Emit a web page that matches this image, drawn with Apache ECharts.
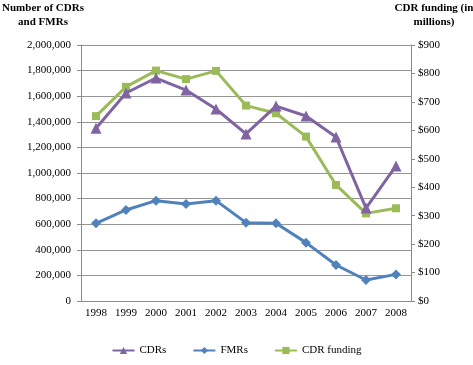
<!DOCTYPE html>
<html>
<head>
<meta charset="utf-8">
<script src="https://cdn.jsdelivr.net/npm/echarts@6/dist/echarts.min.js"></script>
<style>
    html, body { margin: 0; padding: 0; background: #fff; }
    #chart1 { width: 473px; height: 365px; }
</style>
</head>
<body>
<div id="chart1"></div>
<script>
// 年份
var years = ['1998', '1999', '2000', '2001', '2002', '2003', '2004', '2005', '2006', '2007', '2008']
// 左轴
var cdrs = [1350000, 1625000, 1742000, 1648000, 1500000, 1305000, 1523000, 1445000, 1281000, 726000, 1055000]
var fmrs = [607000, 711000, 784000, 758000, 784000, 612000, 607000, 456000, 281000, 164000, 208000]
// 右轴 (百万美元)
var cdrFunding = [650, 753, 810, 780, 809, 687, 660, 578, 408, 308, 326]

var serif = 'Liberation Serif'
var chart1 = echarts.init(document.getElementById('chart1'))

var option = {
    animation: false,
    // 轴标题 (居中两行)
    graphic: [
        {
            type: 'text',
            x: 43,
            y: 1,
            style: {
                text: 'Number of CDRs\nand FMRs',
                align: 'center',
                verticalAlign: 'top',
                font: 'bold 11px "Liberation Serif"',
                lineHeight: 14,
                fill: '#000'
            }
        },
        {
            type: 'text',
            x: 434,
            y: 1,
            style: {
                text: 'CDR funding (in\nmillions)',
                align: 'center',
                verticalAlign: 'top',
                font: 'bold 11px "Liberation Serif"',
                lineHeight: 14,
                fill: '#000'
            }
        }
    ],
    grid: {
        left: 81,
        right: 62,
        top: 45,
        bottom: 64
    },
    legend: {
        bottom: 4,
        left: 'center',
        itemWidth: 22,
        itemHeight: 9,
        itemGap: 26,
        textStyle: { fontFamily: serif, fontSize: 11, color: '#000' },
        data: ['CDRs', 'FMRs', 'CDR funding']
    },
    xAxis: {
        type: 'category',
        boundaryGap: true,
        data: years,
        axisLine: { lineStyle: { color: '#8c8c8c', width: 1 } },
        axisTick: { show: false },
        axisLabel: { fontFamily: serif, fontSize: 11, color: '#000', margin: 7 }
    },
    yAxis: [
        {
            type: 'value',
            min: 0,
            max: 2000000,
            interval: 200000,
            axisLine: { show: true, lineStyle: { color: '#8c8c8c' } },
            axisTick: { show: true, length: 4, lineStyle: { color: '#8c8c8c' } },
            axisLabel: {
                fontFamily: serif, fontSize: 11, color: '#000', margin: 10,
                formatter: function (v) { return v.toLocaleString('en-US') }
            },
            splitLine: { lineStyle: { color: '#959595', width: 1 } }
        },
        {
            type: 'value',
            min: 0,
            max: 900,
            interval: 100,
            position: 'right',
            axisLine: { show: true, lineStyle: { color: '#8c8c8c' } },
            axisTick: { show: true, length: 4, lineStyle: { color: '#8c8c8c' } },
            axisLabel: {
                fontFamily: serif, fontSize: 11, color: '#000', margin: 7,
                formatter: function (v) { return '$' + v }
            },
            splitLine: { show: false }
        }
    ],
    series: [
        {
            name: 'CDRs',
            type: 'line',
            yAxisIndex: 0,
            data: cdrs,
            symbol: 'triangle',
            symbolSize: 11,
            itemStyle: { color: '#8064A2' },
            lineStyle: { color: '#8064A2', width: 3 },
            z: 3
        },
        {
            name: 'FMRs',
            type: 'line',
            yAxisIndex: 0,
            data: fmrs,
            symbol: 'diamond',
            symbolSize: 10,
            itemStyle: { color: '#4F81BD' },
            lineStyle: { color: '#4F81BD', width: 3 },
            z: 2
        },
        {
            name: 'CDR funding',
            type: 'line',
            yAxisIndex: 1,
            data: cdrFunding,
            symbol: 'rect',
            symbolSize: 8,
            itemStyle: { color: '#9BBB59' },
            lineStyle: { color: '#9BBB59', width: 3 },
            z: 2
        }
    ]
}
chart1.setOption(option)
</script>
</body>
</html>
